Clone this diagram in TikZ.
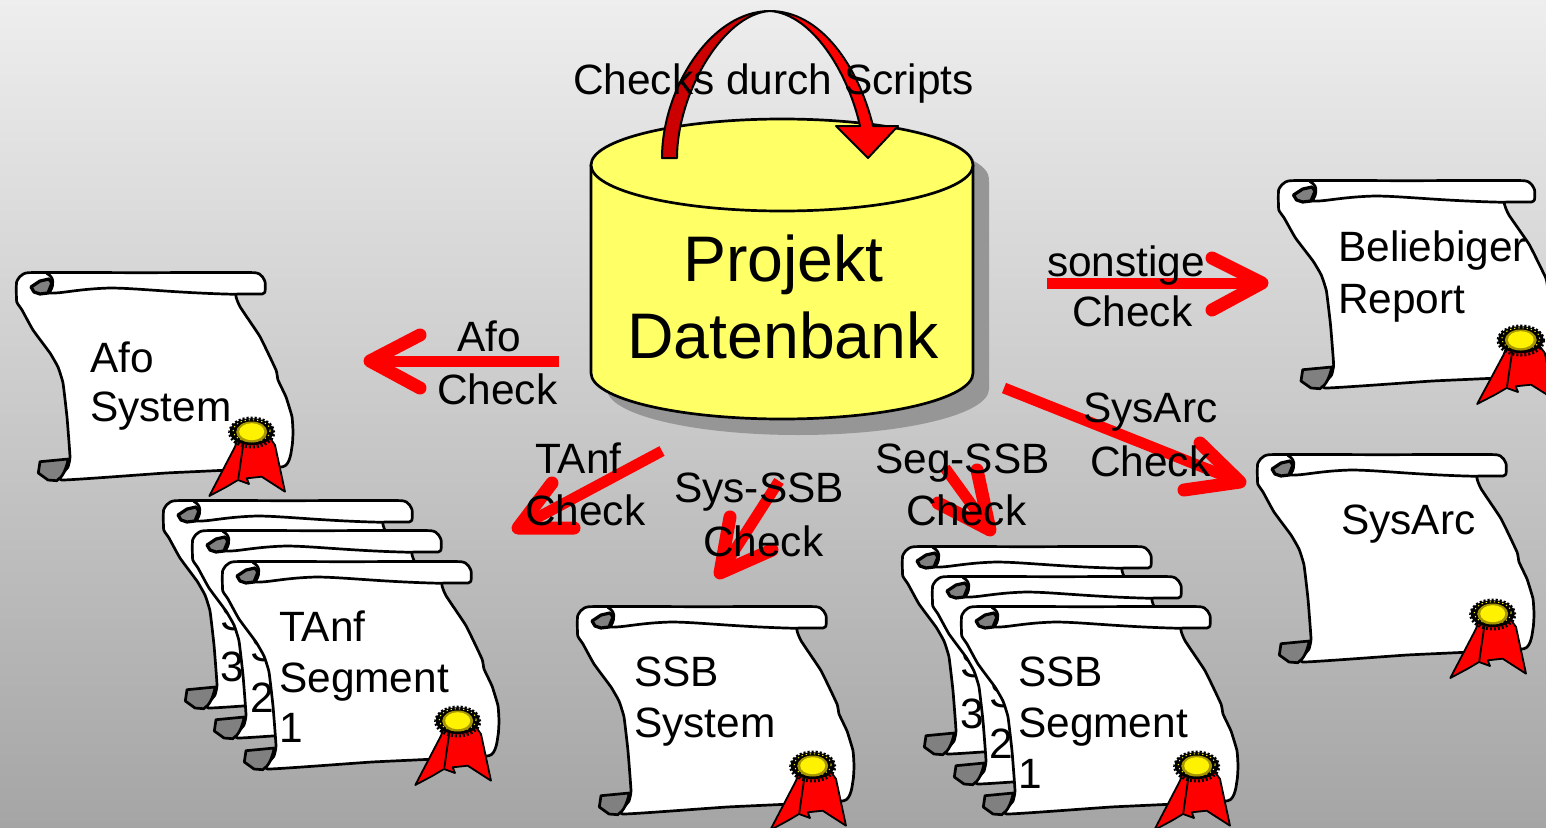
\documentclass[tikz,border=0pt]{standalone}
\usepackage{fontspec}
\setmainfont{Liberation Sans}
\definecolor{cyl}{HTML}{FFFF66}
\definecolor{shad}{HTML}{969696}
\definecolor{roll}{HTML}{808080}
\definecolor{darkred}{HTML}{CC0000}
\definecolor{ringc}{HTML}{A89600}
\definecolor{bgtop}{HTML}{EEEEEE}
\definecolor{bgbot}{HTML}{A5A5A5}
\tikzset{
  lbl/.style={anchor=base west,inner sep=0pt,font=\fontsize{42.4}{50}\selectfont},
  big/.style={anchor=base west,inner sep=0pt,font=\fontsize{64.4}{77}\selectfont},
  shaft/.style={draw=red,line width=11pt},
  head/.style={draw=red,line width=13pt,line cap=round,line join=round},
  outl/.style={draw=black,line width=2.7pt,line join=round},
  scrollart/.pic={
    \path[outl,fill=white] plot[smooth cycle,tension=.22] coordinates {
      (0.7,9.7) (12,0.7) (125,0.7) (239,0.7) (249,9.7) (249,19.7) (246,22)
      (220,22.3) (224,34.7) (244,64.7) (260,98) (262,108) (270,125) (276,144.7) (277,160) (276,174.7) (267,194.7)
      (150,201) (45.7,208) (52,195) (54,184.7) (51,145) (47,111) (42,95) (34,81) (17,58) (6,38) (0.7,29.7)};
    \path[outl,fill=roll] (24,189.7) -- (52.3,187) .. controls (50,197) and (47,205) .. (40.7,208.7)
      -- (32,208) -- (22.3,201) -- cycle;
    \path[outl,fill=roll,line width=3.2pt] (15,15) -- (24,9) -- (33,7) -- (36,11) -- (32,21) -- (24,22) -- (18,20) -- cycle;
    \path[outl] (30.7,1.3) .. controls (36,4) and (37,8) .. (36.7,10) .. controls (37,15) and (35,19) .. (32,21)
      .. controls (45,22) and (60,17) .. (94,16) .. controls (120,16) and (160,21) .. (220,22.3);
    \path[draw=black,line width=1.8pt,fill=red,line join=round] (222,166) -- (219,174.7) -- (193.3,224) -- (210.7,214.7)
      -- (222,208) -- (233,212) -- (230.7,206.3) -- (245.7,204.7) -- (269,219.7) -- (259,173) -- (254,166) -- cycle;
    \path[draw=black,line width=1.8pt] (227.3,172) -- (222.3,206.7);
    \path[fill=black] (235.7,159.7) ellipse [x radius=22pt,y radius=13.5pt];
    \path[draw=black,line width=3pt,dash pattern=on 2pt off 2pt] (235.7,160.5) ellipse [x radius=22pt,y radius=14.5pt];
    \path[draw=yellow,line width=1pt,dash pattern=on 1.2pt off 3pt] (235.7,158.7) ellipse [x radius=18.5pt,y radius=11pt];
    \path[fill=ringc] (235.7,160) ellipse [x radius=15.5pt,y radius=10.5pt];
    \path[fill=yellow] (235.7,159.7) ellipse [x radius=12.5pt,y radius=8.5pt];
  }
}
\begin{document}
\begin{tikzpicture}[x=1pt,y=-1pt]
\useasboundingbox (0,0) rectangle (1546,827);
\clip (0,0) rectangle (1546,827);
\shade[top color=bgtop,bottom color=bgbot] (0,0) rectangle (1546,827);

% cylinder
\path[fill=shad] (607,181) -- (989,181) -- (989,389) arc[start angle=360,end angle=180,x radius=191pt,y radius=46pt] -- cycle;
\path[fill=shad] (798,179) ellipse [x radius=191pt,y radius=46pt];
\path[outl,fill=cyl] (591,165) -- (591,373) arc[start angle=180,end angle=360,x radius=191pt,y radius=46pt] -- (973,165) -- cycle;
\path[outl,fill=cyl] (782,165) ellipse [x radius=191pt,y radius=46pt];
\node[big] (projekt) at (683,281) {Projekt};
\node[big] (datenbank) at (627,358) {Datenbank};

% arch arrow
\path[outl,line width=2pt,fill=darkred] (662,158) .. controls (662,90) and (710,11) .. (770,11)
  .. controls (722,14) and (677,95) .. (677,158) -- cycle;
\path[outl,line width=2pt,fill=red] (770,11) .. controls (820,11) and (858,65) .. (873,126) -- (898,126) -- (868,158)
  -- (836,126) -- (860,126) .. controls (848,72) and (812,14) .. (770,11) -- cycle;

% scrolls
\pic at (16,272) {scrollart};
\node[lbl] (afo1) at (90,372) {Afo};
\node[lbl] (afo2) at (90,421) {System};

\pic at (163,500) {scrollart};
\node[lbl] (ta3a) at (220,579) {TAnf};
\node[lbl] (ta3b) at (220,630) {Segment};
\node[lbl] (ta3c) at (220,681) {3};
\pic at (192,530) {scrollart};
\node[lbl] (ta2a) at (250,610) {TAnf};
\node[lbl] (ta2b) at (250,661) {Segment};
\node[lbl] (ta2c) at (250,712) {2};
\pic at (222,561) {scrollart};
\node[lbl] (ta1a) at (279,641) {TAnf};
\node[lbl] (ta1b) at (279,692) {Segment};
\node[lbl] (ta1c) at (279,742) {1};

\pic at (577,606) {scrollart};
\node[lbl] (ss1) at (634,686) {SSB};
\node[lbl] (ss2) at (634,737) {System};

\pic at (902,546) {scrollart};
\node[lbl] (sb3a) at (960,626) {SSB};
\node[lbl] (sb3b) at (960,677) {Segment};
\node[lbl] (sb3c) at (960,728) {3};
\pic at (932,576) {scrollart};
\node[lbl] (sb2a) at (989,656) {SSB};
\node[lbl] (sb2b) at (989,707) {Segment};
\node[lbl] (sb2c) at (989,758) {2};
\pic at (961,606) {scrollart};
\node[lbl] (sb1a) at (1018,686) {SSB};
\node[lbl] (sb1b) at (1018,737) {Segment};
\node[lbl] (sb1c) at (1018,788) {1};

\pic[xscale=1.03] at (1278,180) {scrollart};
\node[lbl] (br1) at (1338,261) {Beliebiger};
\node[lbl] (br2) at (1338,313) {Report};

\pic at (1257,454) {scrollart};
\node[lbl] (sa) at (1341,534) {SysArc};

% arrow coordinates
\coordinate (afoS) at (559,361); \coordinate (afoT) at (370,361); \coordinate (afoA) at (420,335); \coordinate (afoB) at (420,388);
\coordinate (sonS) at (1047,283); \coordinate (sonT) at (1262,283); \coordinate (sonA) at (1212,258); \coordinate (sonB) at (1212,310);
\coordinate (sarS) at (1004,388); \coordinate (sarT) at (1240,482); \coordinate (sarA) at (1200,443); \coordinate (sarB) at (1184,490);
\coordinate (tanS) at (662,451); \coordinate (tanT) at (518,528); \coordinate (tanA) at (552,483); \coordinate (tanB) at (574,528);
\coordinate (sysS) at (779,481); \coordinate (sysT) at (720,573); \coordinate (sysA) at (730,517); \coordinate (sysB) at (772,550);
\coordinate (segS) at (945,468); \coordinate (segT) at (990,530); \coordinate (segA) at (977,470); \coordinate (segB) at (938,503);

\foreach \n in {afo,son,sar,tan,sys,seg}{
  \draw[shaft] (\n S) -- (\n T);
  \draw[head] (\n A) -- (\n T) -- (\n B);
}

% labels
\node[lbl] (c0) at (573,94) {Checks durch Scripts};
\node[lbl] (l1a) at (457,351) {Afo};
\node[lbl] (l1b) at (437,404) {Check};
\node[lbl] (l2a) at (1047,276) {sonstige};
\node[lbl] (l2b) at (1072,326) {Check};
\node[lbl] (l3a) at (1083,422) {SysArc};
\node[lbl] (l3b) at (1090,476) {Check};
\node[lbl] (l4a) at (535,473) {TAnf};
\node[lbl] (l4b) at (525,525) {Check};
\node[lbl] (l5a) at (674,502) {Sys-SSB};
\node[lbl] (l5b) at (703,556) {Check};
\node[lbl] (l6a) at (875,473) {Seg-SSB};
\node[lbl] (l6b) at (906,525) {Check};
\end{tikzpicture}
\end{document}
